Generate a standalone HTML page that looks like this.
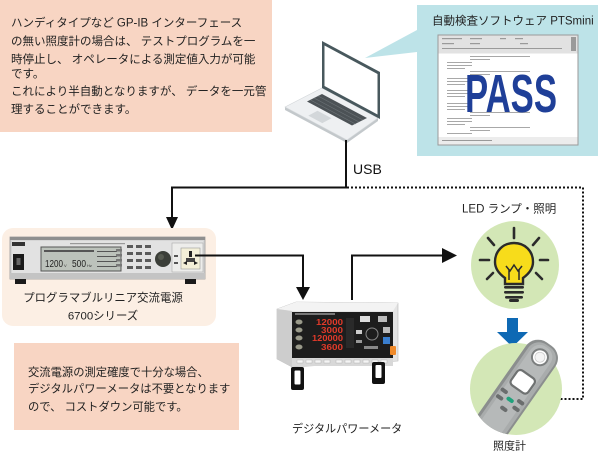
<!DOCTYPE html>
<html><head><meta charset="utf-8">
<style>
html,body{margin:0;padding:0;background:#fff;width:600px;height:457px;overflow:hidden}
svg{display:block}
text{font-family:"Liberation Sans","Noto Sans CJK JP",sans-serif;fill:#222}
</style></head>
<body>
<svg width="600" height="457" viewBox="0 0 600 457" xmlns="http://www.w3.org/2000/svg">
<defs>
<clipPath id="cm"><circle cx="516" cy="389" r="46"/><rect x="522" y="330" width="50" height="38"/></clipPath>
</defs>

<!-- top-left note -->
<rect x="0" y="0" width="272" height="132" fill="#f8d5c3"/>
<g font-size="11.5">
<text x="11" y="26.5">ハンディタイプなど GP-IB インターフェース</text>
<text x="11" y="45">の無い照度計の場合は、 テストプログラムを一</text>
<text x="11" y="63">時停止し、 オペレータによる測定値入力が可能</text>
<text x="11" y="77.5">です。</text>
<text x="11" y="95">これにより半自動となりますが、 データを一元管</text>
<text x="11" y="113">理することができます。</text>
</g>

<!-- callout -->
<polygon points="417,5 598,5 598,156 417,156 417,52 365,58 417,30" fill="#bde3e8"/>
<text x="432" y="24.5" font-size="11.5">自動検査ソフトウェア PTSmini</text>
<!-- screenshot -->
<rect x="438" y="35" width="140" height="110" fill="#fff" stroke="#9a9a9a" stroke-width="1"/>
<rect x="438.5" y="35.5" width="139" height="18" fill="#e2e2e2"/>
<g fill="#9a9a9a">
<rect x="442" y="38" width="20" height="1.2"/><rect x="470" y="38" width="12" height="1.2"/><rect x="500" y="38" width="6" height="1.2"/><rect x="515" y="38" width="8" height="1.2"/>
<rect x="442" y="43" width="12" height="1.2"/><rect x="470" y="43" width="10" height="1.2"/><rect x="520" y="43" width="8" height="1.2"/>
<rect x="442" y="48" width="120" height="1"/>
<rect x="571" y="37" width="5" height="14"/>
</g>
<g fill="#a8a8a8">
<rect x="470" y="56" width="60" height="1"/><rect x="470" y="59" width="20" height="1"/>
<rect x="447" y="62" width="25" height="1"/><rect x="447" y="65" width="25" height="1"/><rect x="447" y="68" width="18" height="1"/>
<rect x="470" y="71" width="60" height="1"/><rect x="470" y="74" width="20" height="1"/>
<rect x="447" y="78" width="25" height="1"/><rect x="447" y="81" width="25" height="1"/><rect x="447" y="84" width="18" height="1"/>
<rect x="447" y="90" width="25" height="1"/><rect x="447" y="93" width="25" height="1"/><rect x="447" y="96" width="18" height="1"/>
<rect x="447" y="103" width="25" height="1"/><rect x="447" y="106" width="25" height="1"/><rect x="447" y="109" width="18" height="1"/>
<rect x="470" y="112" width="60" height="1"/><rect x="470" y="115" width="20" height="1"/>
<rect x="447" y="118" width="25" height="1"/><rect x="447" y="121" width="25" height="1"/><rect x="447" y="124" width="18" height="1"/>
<rect x="470" y="127" width="60" height="1"/><rect x="470" y="130" width="20" height="1"/>
<rect x="447" y="133" width="25" height="1"/>
</g>
<rect x="438.5" y="137" width="139" height="7.5" fill="#ececec"/>
<rect x="442" y="140" width="50" height="1" fill="#999"/>
<text x="465" y="112" font-size="54" font-weight="bold" textLength="92" lengthAdjust="spacingAndGlyphs" style="fill:#1f3f98">PASS</text>

<!-- laptop -->
<polygon points="285,107 347,140 378,118 378,121 347,143 285,110" fill="#c3c8cb"/>
<polygon points="322,88 378,118 347,140 285,107" fill="#eef0f2" stroke="#d2d6d9" stroke-width="0.6"/>
<polygon points="322,94 367,118 352,125.5 307,101.5" fill="#4c5256"/>
<g stroke="#6c7377" stroke-width="0.7">
<line x1="318" y1="96" x2="363" y2="120"/><line x1="314" y1="98" x2="359" y2="122"/><line x1="310.5" y1="100" x2="355.5" y2="124"/>
</g>
<polygon points="317.5,110.8 331.5,118.3 322.3,123.1 308.3,115.6" fill="#d3d7da"/>
<polygon points="322,41 380,72 380,119 322,88" fill="#48585d"/>
<polygon points="324.5,45.5 377.5,74 377.5,114.5 324.5,86" fill="#fff"/>

<!-- USB connector -->
<polyline points="346,140 346,187.5 172,187.5 172,218" fill="none" stroke="#111" stroke-width="2"/>
<polygon points="166,217 178,217 172,230" fill="#111"/>
<text x="353" y="174" font-size="14" style="fill:#111">USB</text>
<polyline points="347,187.5 583,187.5 583,399 555,399" fill="none" stroke="#111" stroke-width="2" stroke-dasharray="2,2"/>
<polygon points="555,393 555,405 543,399" fill="#111"/>

<!-- power source box -->
<rect x="2" y="228" width="214" height="98" rx="11" fill="#fcefe4"/>
<g>
<rect x="10" y="237" width="195" height="42" fill="#d6d6d6" stroke="#9a9a9a" stroke-width="0.8"/>
<rect x="10" y="237" width="195" height="3" fill="#8f8f8f"/>
<rect x="12" y="241" width="191" height="32" fill="#e2e2e2"/>
<rect x="10" y="273" width="195" height="6" fill="#c4c4c4"/>
<rect x="12" y="242" width="13" height="4" fill="#333"/>
<rect x="70" y="243" width="55" height="1.2" fill="#999"/>
<rect x="13" y="254" width="11" height="16" fill="#1a1a1a"/>
<rect x="16.5" y="258" width="4" height="7" fill="#666"/>
<rect x="41" y="247" width="80" height="24" fill="#bcc2bb" stroke="#555" stroke-width="1"/>
<rect x="44" y="250" width="50" height="2" fill="#555"/>
<text x="45" y="267" font-size="10" textLength="18" lengthAdjust="spacingAndGlyphs" style="fill:#222">1200</text>
<text x="64" y="267" font-size="4" style="fill:#333">V</text>
<text x="72" y="267" font-size="10" textLength="14" lengthAdjust="spacingAndGlyphs" style="fill:#222">500</text>
<text x="87" y="267" font-size="4" style="fill:#333">Hz</text>
<g fill="#555"><rect x="97" y="251" width="20" height="1"/><rect x="97" y="256" width="20" height="1"/><rect x="97" y="261" width="20" height="1"/><rect x="97" y="266" width="20" height="1"/></g>
<g fill="#777"><rect x="116" y="249" width="6" height="2.5"/><rect x="116" y="254" width="6" height="2.5"/><rect x="116" y="259" width="6" height="2.5"/><rect x="116" y="264" width="6" height="2.5"/></g>
<g fill="#5a5a5a">
<rect x="127" y="245" width="6" height="3"/><rect x="136" y="245" width="6" height="3"/><rect x="145" y="245" width="6" height="3"/>
<rect x="127" y="252" width="6" height="3"/><rect x="136" y="252" width="6" height="3"/><rect x="145" y="252" width="6" height="3"/>
<rect x="127" y="259" width="6" height="3"/><rect x="136" y="259" width="6" height="3"/><rect x="145" y="259" width="6" height="3"/>
<rect x="127" y="266" width="6" height="3"/><rect x="136" y="266" width="6" height="3"/><rect x="145" y="266" width="6" height="3"/>
</g>
<circle cx="163" cy="259" r="8" fill="#3b3e38"/>
<circle cx="161" cy="257" r="3" fill="#55594f"/>
<rect x="172" y="243" width="31" height="29" fill="#ededeb" stroke="#aaa" stroke-width="0.6"/>
<rect x="174" y="255" width="4" height="2" fill="#555"/><rect x="174" y="262" width="4" height="2" fill="#555"/>
<rect x="181" y="248" width="19" height="21" fill="#f3efd8" stroke="#999" stroke-width="0.6"/>
<rect x="189" y="251" width="3" height="6" fill="#222"/>
<rect x="186" y="258" width="9" height="4" fill="#444"/>
<polygon points="183,263 187,261 187,265" fill="#222"/><polygon points="198,263 194,261 194,265" fill="#222"/>
<rect x="15" y="279" width="11" height="5" fill="#1a1a1a"/>
<rect x="185" y="279" width="11" height="5" fill="#1a1a1a"/>
</g>
<g font-size="11.4" text-anchor="middle">
<text x="103" y="301.5">プログラマブルリニア交流電源</text>
<text x="103" y="319.5">6700シリーズ</text>
</g>

<!-- source -> meter -->
<polyline points="195,255.5 303,255.5 303,288" fill="none" stroke="#111" stroke-width="2"/>
<polygon points="296,287 310,287 303,300" fill="#111"/>
<!-- meter -> LED -->
<polyline points="352,300 352,255.5 443,255.5" fill="none" stroke="#111" stroke-width="2"/>
<polygon points="442,248 442,263 457,255.5" fill="#111"/>

<!-- power meter -->
<g>
<polygon points="277,309 296,302 398,303 398,361 292,367 277,359" fill="#e4e4e4" stroke="#b8b8b8" stroke-width="0.6"/>
<polygon points="277,309 296,302 398,303 393,311 292,311" fill="#f3f3f3"/>
<polygon points="277,309 292,311 292,367 277,359" fill="#cdcdcd"/>
<rect x="292" y="312" width="101" height="46" fill="#1d1d1d"/>
<rect x="295" y="313" width="40" height="2" fill="#777"/>
<g fill="#9a9a8a">
<ellipse cx="299" cy="322" rx="3.5" ry="2.5"/><ellipse cx="299" cy="330" rx="3.5" ry="2.5"/><ellipse cx="299" cy="338" rx="3.5" ry="2.5"/><ellipse cx="299" cy="347" rx="3.5" ry="2.5"/>
</g>
<g font-size="8.5" font-weight="bold" text-anchor="end">
<text x="343" y="325" textLength="27" lengthAdjust="spacingAndGlyphs" style="fill:#e23a2a">12000</text>
<text x="343" y="333" textLength="22" lengthAdjust="spacingAndGlyphs" style="fill:#e23a2a">3000</text>
<text x="343" y="341" textLength="31" lengthAdjust="spacingAndGlyphs" style="fill:#e23a2a">120000</text>
<text x="343" y="350" textLength="22" lengthAdjust="spacingAndGlyphs" style="fill:#e23a2a">3600</text>
</g>
<g fill="#555">
<rect x="346" y="318" width="8" height="30" fill="#2a2a2a"/>
<rect x="360" y="316" width="10" height="6" fill="#ddd"/>
<rect x="378" y="316" width="9" height="6" fill="#bbb"/>
<rect x="356" y="330" width="6" height="4" fill="#ccc"/>
<circle cx="372" cy="334" r="6" fill="none" stroke="#888" stroke-width="1"/>
<rect x="356" y="340" width="6" height="3" fill="#999"/>
<rect x="364" y="346" width="14" height="3" fill="#888"/>
</g>
<rect x="383" y="327" width="7" height="6" fill="#bbb"/>
<rect x="383" y="337" width="7" height="7" fill="#3a7fd0"/>
<rect x="390" y="346" width="6" height="9" rx="1" fill="#f08a2a"/>
<rect x="292" y="358" width="101" height="8" fill="#d8d8d8"/>
<g fill="#f4f4f4" stroke="#aaa" stroke-width="0.4">
<rect x="297" y="360" width="6" height="3"/><rect x="306" y="360" width="6" height="3"/><rect x="315" y="360" width="6" height="3"/><rect x="324" y="360" width="6" height="3"/><rect x="336" y="360" width="6" height="3"/><rect x="345" y="360" width="6" height="3"/><rect x="354" y="360" width="6" height="3"/><rect x="363" y="360" width="6" height="3"/><rect x="372" y="360" width="6" height="3"/><rect x="381" y="360" width="6" height="3"/>
</g>
<rect x="291" y="367" width="13" height="23" rx="2" fill="#111"/>
<rect x="294.5" y="370.5" width="6" height="14" rx="1" fill="#fff"/>
<rect x="372" y="362" width="13" height="22" rx="2" fill="#111"/>
<rect x="375.5" y="365" width="6" height="13" rx="1" fill="#fff"/>
</g>
<text x="292" y="432.5" font-size="11.1">デジタルパワーメータ</text>

<!-- LED lamp -->
<text x="462" y="212.5" font-size="11.5">LED ランプ・照明</text>
<circle cx="515" cy="265" r="44" fill="#d3e7b6"/>
<g stroke="#2b2b2b" stroke-width="2.6" stroke-linecap="round" fill="none">
<line x1="514" y1="228" x2="514" y2="238"/>
<line x1="480" y1="260" x2="489" y2="260"/>
<line x1="540" y1="260" x2="548" y2="260"/>
<line x1="488" y1="238" x2="494" y2="245"/>
<line x1="539" y1="238" x2="533" y2="245"/>
<line x1="487" y1="279" x2="493" y2="273"/>
<line x1="542" y1="279" x2="536" y2="273"/>
</g>
<path d="M505,284 L505,278 C498,273 495,268 495,262 C495,251 503,243 514,243 C525,243 533,251 533,262 C533,268 530,273 523,278 L523,284 Z" fill="#f7dc1b" stroke="#2b2b2b" stroke-width="2.4"/>
<path d="M509,280 L509,269 M519,280 L519,269 M506,266 L510,271 L514,265 L518,271 L522,266" fill="none" stroke="#2b2b2b" stroke-width="1.5"/>
<g fill="#2b2b2b">
<rect x="504" y="286" width="20" height="2.6" rx="1.2"/>
<rect x="504" y="291" width="20" height="2.6" rx="1.2"/>
<rect x="505" y="296" width="18" height="2.6" rx="1.2"/>
<rect x="509" y="299" width="10" height="3" rx="1.5"/>
</g>

<!-- blue arrow -->
<rect x="507" y="318" width="11" height="15" fill="#0e69b4"/>
<polygon points="497,332 528,332 512.5,347" fill="#0e69b4"/>

<!-- light meter -->
<circle cx="516" cy="389" r="46" fill="#d3e7b6"/>
<g clip-path="url(#cm)">
<g transform="rotate(35 517 390)">
<rect x="499" y="334" width="36" height="118" rx="15" fill="#8b8e8e"/>
<rect x="502" y="336" width="31" height="114" rx="13" fill="#a9acac"/>
<rect x="505" y="338" width="24" height="112" rx="11" fill="#b6b9b9"/>
<circle cx="517" cy="350" r="8" fill="#fff" stroke="#7c7f7f" stroke-width="2"/>
<circle cx="517" cy="350" r="5" fill="#f4f4f4" stroke="#ccc" stroke-width="0.8"/>
<rect x="506.5" y="371" width="21" height="18" rx="4" fill="#fff" stroke="#6f7272" stroke-width="2.2"/>
<g fill="#6a6d6d">
<rect x="503" y="396" width="8" height="4" rx="2"/>
<rect x="523" y="396" width="8" height="4" rx="2"/>
<rect x="503" y="404" width="8" height="4" rx="2"/>
<rect x="523" y="404" width="8" height="4" rx="2"/>
<rect x="513" y="411" width="8" height="4" rx="2"/>
</g>
<rect x="513" y="400" width="8" height="4" rx="2" fill="#1fa27c"/>
</g>
</g>
<text x="493" y="449.5" font-size="11">照度計</text>

<!-- bottom note -->
<rect x="14" y="343" width="225" height="87" fill="#f8d5c3"/>
<g font-size="11.3">
<text x="28" y="376">交流電源の測定確度で十分な場合、</text>
<text x="28" y="392.6">デジタルパワーメータは不要となります</text>
<text x="28" y="410.3">ので、 コストダウン可能です。</text>
</g>
</svg>
</body></html>
